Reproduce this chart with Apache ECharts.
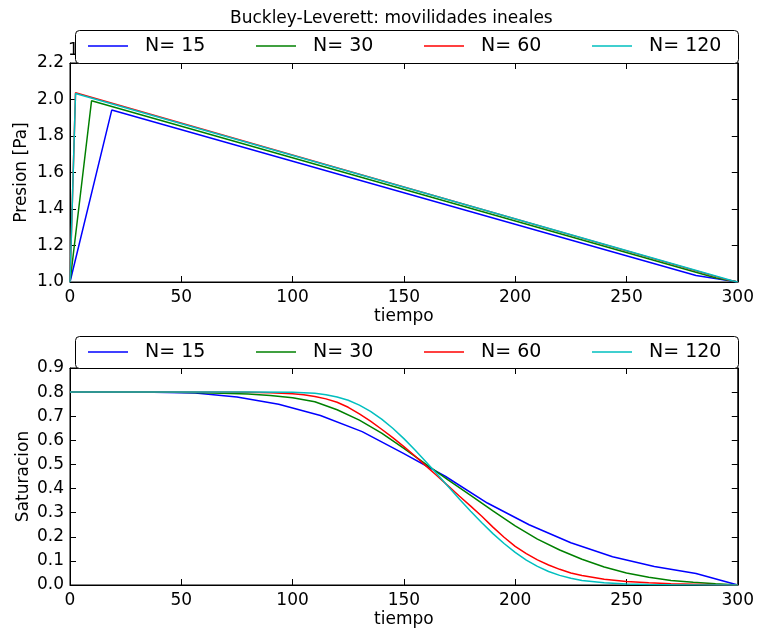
<!DOCTYPE html>
<html>
<head>
<meta charset="utf-8">
<script src="https://cdn.jsdelivr.net/npm/echarts@6/dist/echarts.min.js"></script>
<style>
  html, body { margin: 0; padding: 0; background: #fff; }
  #chart { width: 757px; height: 629px; }
</style>
</head>
<body>
<div id="chart"></div>
<script>
// Series names and colours
const nombres = ['N= 15', 'N= 30', 'N= 60', 'N= 120'];
const colores = ['#0000ff', '#008000', '#ff0000', '#00bfbf'];

// Pressure vs time (vertices of each polyline)
const tiempoP15 = [0, 18.75, 281.25, 300];
const presion15 = [1.0, 1.942, 1.036, 1.0];
const tiempoP30 = [0, 9.68, 290.32, 300];
const presion30 = [1.0, 1.993, 1.022, 1.0];
const tiempoP60 = [0, 2.48, 295.08, 300];
const presion60 = [1.0, 2.037, 1.013, 1.0];
const tiempoP120 = [0, 2.48, 297.52, 300];
const presion120 = [1.0, 2.033, 1.007, 1.0];

// Saturation vs time
const tiempoS15 = [0, 18.75, 37.5, 56.25, 75, 93.75, 112.5, 131.25, 150, 168.75,
  187.5, 206.25, 225, 243.75, 262.5, 281.25, 300];
const sat15 = [0.800, 0.800, 0.799, 0.796, 0.780, 0.750, 0.703, 0.636, 0.545, 0.450,
  0.340, 0.250, 0.175, 0.117, 0.077, 0.048, 0.0];

const tiempoS30 = [0, 20, 40, 60, 80, 90, 100, 110, 120, 130, 140, 150, 160, 170, 180,
  190, 200, 210, 220, 230, 240, 250, 260, 270, 280, 290, 300];
const sat30 = [0.800, 0.800, 0.800, 0.797, 0.792, 0.786, 0.777, 0.760, 0.727, 0.684,
  0.630, 0.567, 0.500, 0.435, 0.372, 0.307, 0.245, 0.190, 0.145, 0.107, 0.075, 0.050,
  0.032, 0.019, 0.011, 0.005, 0.0];

const tiempoS60 = [0, 60, 80, 90, 100, 105, 110, 115, 120, 125, 130, 135, 140, 145,
  150, 155, 160, 165, 170, 175, 180, 185, 190, 195, 200, 205, 210, 215, 220, 225, 230,
  240, 250, 260, 270, 280, 290, 300];
const sat60 = [0.800, 0.800, 0.799, 0.797, 0.793, 0.789, 0.782, 0.772, 0.758, 0.737,
  0.710, 0.680, 0.646, 0.611, 0.574, 0.535, 0.493, 0.452, 0.410, 0.368, 0.327, 0.285,
  0.240, 0.198, 0.160, 0.130, 0.104, 0.083, 0.065, 0.050, 0.039, 0.024, 0.015, 0.009,
  0.005, 0.003, 0.001, 0.0];

const tiempoS120 = [0, 80, 100, 110, 115, 120, 125, 130, 135, 140, 145, 150, 155, 160,
  165, 170, 175, 180, 185, 190, 195, 200, 205, 210, 215, 220, 225, 230, 240, 250, 260,
  270, 300];
const sat120 = [0.800, 0.800, 0.799, 0.795, 0.789, 0.780, 0.766, 0.746, 0.720, 0.688,
  0.650, 0.607, 0.560, 0.510, 0.459, 0.407, 0.356, 0.306, 0.258, 0.213, 0.172, 0.135,
  0.103, 0.077, 0.056, 0.040, 0.028, 0.019, 0.009, 0.004, 0.002, 0.001, 0.0];

// Tick values
const ticksTiempo = [0, 50, 100, 150, 200, 250, 300];
const ticksPresion = [1.0, 1.2, 1.4, 1.6, 1.8, 2.0, 2.2];
const ticksSat = [0.0, 0.1, 0.2, 0.3, 0.4, 0.5, 0.6, 0.7, 0.8, 0.9];

const pares = (xs, ys) => xs.map((x, i) => [x, ys[i]]);
const datosP = [pares(tiempoP15, presion15), pares(tiempoP30, presion30),
                pares(tiempoP60, presion60), pares(tiempoP120, presion120)];
const datosS = [pares(tiempoS15, sat15), pares(tiempoS30, sat30),
                pares(tiempoS60, sat60), pares(tiempoS120, sat120)];

const FONT = 'DejaVu Sans';
const negro = '#000';

function ejeX(grid, visible) {
  return {
    type: 'value', gridIndex: grid, position: visible ? 'bottom' : 'top',
    min: ticksTiempo[0], max: ticksTiempo[ticksTiempo.length - 1], interval: 50,
    name: visible ? 'tiempo' : '', nameLocation: 'middle', nameGap: 26,
    nameMoveOverlap: false,
    nameTextStyle: { fontFamily: FONT, fontSize: 17, color: negro },
    axisLine: { show: true, onZero: false, lineStyle: { color: negro, width: 1 } },
    axisTick: { show: true, inside: true, length: 6, lineStyle: { color: negro } },
    axisLabel: { show: visible, fontFamily: FONT, fontSize: 17, color: negro, margin: 7 },
    splitLine: { show: false }
  };
}

function ejeY(grid, visible, ticks, name, step, gap) {
  return {
    type: 'value', gridIndex: grid, position: visible ? 'left' : 'right',
    min: ticks[0], max: ticks[ticks.length - 1], interval: step,
    name: visible ? name : '', nameLocation: 'middle', nameGap: gap,
    nameMoveOverlap: false,
    nameTextStyle: { fontFamily: FONT, fontSize: 17, color: negro },
    axisLine: { show: true, onZero: false, lineStyle: { color: negro, width: 1 } },
    axisTick: { show: true, inside: true, length: 6, lineStyle: { color: negro } },
    axisLabel: { show: visible, fontFamily: FONT, fontSize: 17, color: negro, margin: 6,
                 formatter: v => v.toFixed(1) },
    splitLine: { show: false }
  };
}

const series = [];
nombres.forEach((n, i) => {
  series.push({
    name: n, type: 'line', xAxisIndex: 0, yAxisIndex: 0, data: datosP[i],
    symbol: 'none', lineStyle: { color: colores[i], width: 1.5 },
    itemStyle: { color: colores[i] }, animation: false
  });
});
nombres.forEach((n, i) => {
  series.push({
    name: n, type: 'line', xAxisIndex: 2, yAxisIndex: 2, data: datosS[i],
    symbol: 'none', lineStyle: { color: colores[i], width: 1.5 },
    itemStyle: { color: colores[i] }, animation: false
  });
});

// One legend entry per component so each sits at its own column;
// the key is a thin bar standing in for the line sample
const columnas = [88, 256, 424, 592];
const legends = [];
[46, 352].forEach(centro => {
  nombres.forEach((n, i) => {
    legends.push({
      data: [n], left: columnas[i], top: centro - 11, padding: 0, z: 20,
      icon: 'rect', itemWidth: 40, itemHeight: 1.5, selectedMode: false,
      textStyle: { fontFamily: FONT, fontSize: 19, color: negro, lineHeight: 22,
                   padding: [0, 0, 0, 12] }
    });
  });
});

const chart = echarts.init(document.getElementById('chart'), null, { renderer: 'canvas' });
chart.setOption({
  backgroundColor: '#fff',
  animation: false,
  title: {
    text: 'Buckley-Leverett: movilidades ineales', left: 225, top: 5,
    textStyle: { fontFamily: FONT, fontSize: 17, fontWeight: 'normal', color: negro }
  },
  grid: [
    { left: 70, right: 15, top: 63, height: 219, show: true, borderColor: negro, borderWidth: 1 },
    { left: 70, right: 15, top: 368, height: 219, show: true, borderColor: negro, borderWidth: 1 }
  ],
  xAxis: [ejeX(0, true), ejeX(0, false), ejeX(1, true), ejeX(1, false)],
  yAxis: [
    ejeY(0, true, ticksPresion, 'Presion [Pa]', 0.2, 40),
    ejeY(0, false, ticksPresion, '', 0.2, 0),
    ejeY(1, true, ticksSat, 'Saturacion', 0.1, 38),
    ejeY(1, false, ticksSat, '', 0.1, 0)
  ],
  legend: legends,
  graphic: [
    { type: 'text', left: 68, top: 42, z: 1,
      style: { text: '1e5', font: '17px "DejaVu Sans"', fill: negro } },
    { type: 'rect', z: 10, shape: { x: 75.5, y: 30.5, width: 663, height: 33, r: 4 },
      style: { fill: '#fff', stroke: negro, lineWidth: 1 } },
    { type: 'rect', z: 10, shape: { x: 75.5, y: 336.5, width: 663, height: 32, r: 4 },
      style: { fill: '#fff', stroke: negro, lineWidth: 1 } }
  ],
  series: series
});
</script>
</body>
</html>
